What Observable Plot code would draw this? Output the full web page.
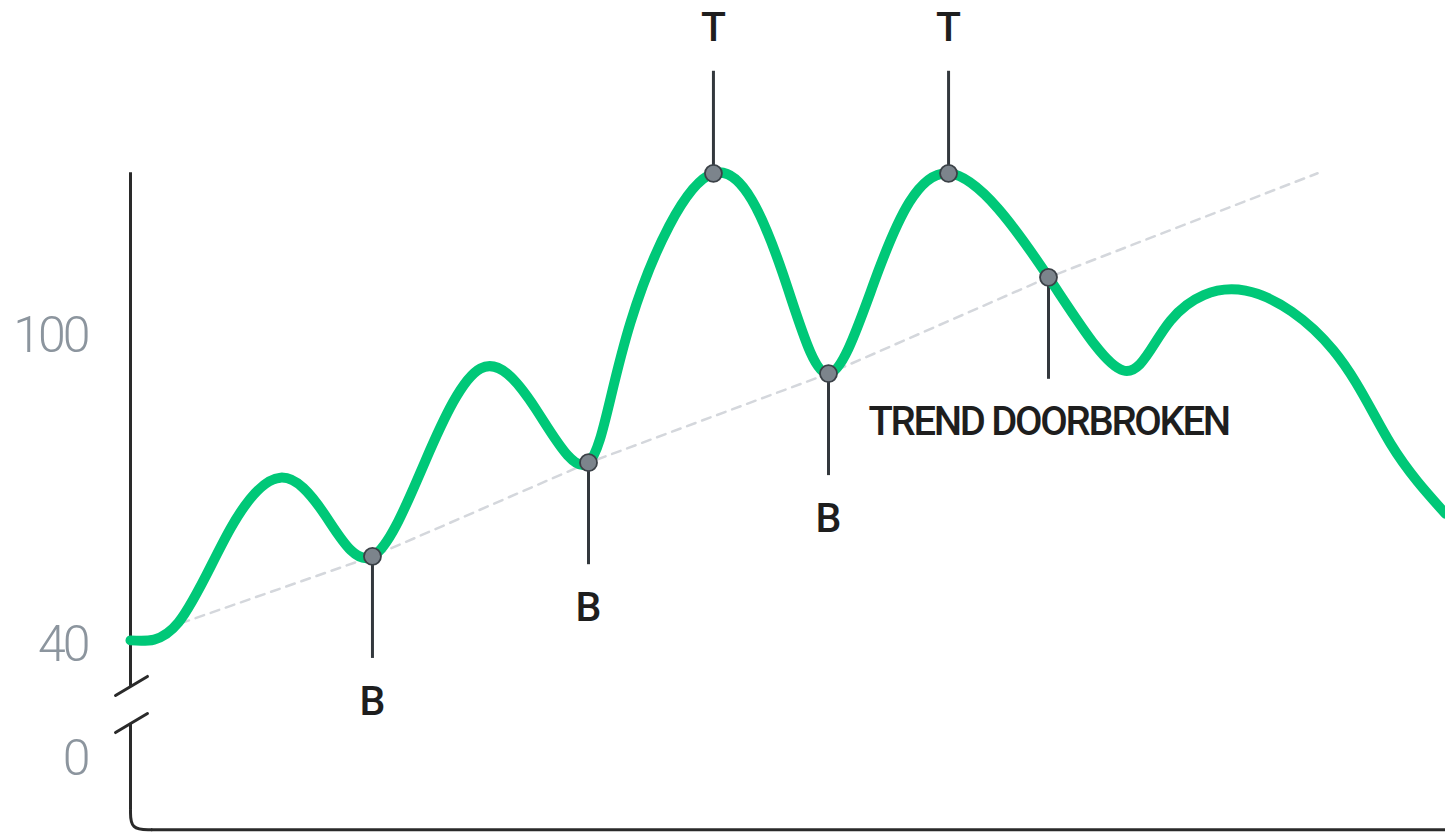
<!DOCTYPE html>
<html><head><meta charset="utf-8">
<script src="https://cdn.jsdelivr.net/npm/d3@7"></script>
<script src="https://cdn.jsdelivr.net/npm/@observablehq/plot@0.6"></script>
<style>html,body{margin:0;padding:0;background:#fff;} svg{display:block}</style>
</head><body><div id="chart"></div>
<script>
// Price curve (x: time units 0..100, y: value) — extrema and turning points
const curveX = [0, 3.65, 7.60, 11.41, 14.83, 18.40, 22.43, 26.62, 30.80, 34.83, 38.02, 44.33, 49.58, 53.08, 56.88, 62.21, 69.81, 75.51, 79.09, 84.79, 91.48, 95.82, 100];
const curveY = [40.8, 44.3, 62.5, 72.4, 65.0, 57.1, 75.7, 93.6, 85.8, 75.3, 102.5, 131.5, 112.2, 92.6, 112.6, 131.5, 111.3, 93.2, 102.9, 108.7, 97.1, 79.0, 65.4];

// Trend line (dashed)
const trendX = [3.80, 18.40, 34.83, 53.08, 69.81, 90.27];
const trendY = [44.1, 57.1, 75.3, 92.6, 111.3, 131.5];

// Annotated points
const markerLabels = ["B", "B", "T", "B", "T", "TREND DOORBROKEN"];
const markerX = [18.40, 34.83, 44.33, 53.08, 62.21, 69.81];
const markerY = [57.1, 75.3, 131.5, 92.6, 131.5, 111.3];
const markerDir = [1, 1, -1, 1, -1, 1]; // 1 = label below, -1 = label above

// Y axis ticks and broken scale (values below 40 are compressed)
const yTicks = [0, 40, 100];
const yTickLabels = ["0", "40", "100"];
const yBreakAt = 40;
const yBelowBreakRatio = 0.5534;
const yAxisTop = 131.6;
const yAxisBottom = -25;

// Frame pieces (data units)
const upperAxis = {y1: yAxisTop, y2: 25.3};
const lowerAxis = {y1: 12.3, y2: -17.9};
const breakUpper = [{x: -1.14, y: 22.1}, {x: 1.29, y: 28.8}];
const breakLower = [{x: -1.14, y: 9.1}, {x: 1.29, y: 15.8}];
const corner = [{x: 0, y: -17.9}, {x: 0, y: -25}, {x: 1.6, y: -25}];

const curve = curveX.map((x, i) => ({x, y: curveY[i]}));
const trend = trendX.map((x, i) => ({x, y: trendY[i]}));
const markers = markerLabels.map((label, i) => ({label, x: markerX[i], y: markerY[i], dir: markerDir[i]}));
const ticks = yTicks.map((y, i) => ({y, label: yTickLabels[i]}));

const brk = v => v >= yBreakAt ? v : yBreakAt - (yBreakAt - v) * yBelowBreakRatio;
const unbrk = u => u >= yBreakAt ? u : yBreakAt - (yBreakAt - u) / yBelowBreakRatio;

const yDomain = [40, 100];
const yRange = [644, 335];
// same mapping as the Plot y scale, used to size leader lines in pixels
const yLin = d3.scaleLinear(yDomain, yRange);
const leaderLen = 102;
markers.forEach(d => { d.yEnd = unbrk(yLin.invert(yLin(brk(d.y)) + d.dir * leaderLen)); });

const axisColor = "#2a2a2a";
const font = "Roboto, 'Noto Sans', sans-serif";

const chart = Plot.plot({
  width: 1445,
  height: 834,
  marginLeft: 130,
  marginRight: 0,
  marginTop: 0,
  marginBottom: 0,
  style: {fontFamily: font, background: "#fff", overflow: "visible"},
  x: {domain: [0, 100], axis: null},
  y: {domain: yDomain, range: yRange, transform: brk, axis: null},
  marks: [
    // y tick labels
    Plot.text(ticks, {x: 0, y: "y", text: "label", textAnchor: "end", lineAnchor: "middle", dx: -43, fontSize: 50, fontWeight: 300, fill: "#8c959e"}),
    // frame
    Plot.ruleX([upperAxis], {x: 0, y1: "y1", y2: "y2", stroke: axisColor, strokeWidth: 3}),
    Plot.ruleX([lowerAxis], {x: 0, y1: "y1", y2: "y2", stroke: axisColor, strokeWidth: 3}),
    Plot.line(breakUpper, {x: "x", y: "y", stroke: axisColor, strokeWidth: 3}),
    Plot.line(breakLower, {x: "x", y: "y", stroke: axisColor, strokeWidth: 3}),
    Plot.line(corner, {x: "x", y: "y", curve: "basis", stroke: axisColor, strokeWidth: 3}),
    Plot.ruleY([yAxisBottom], {x1: 1.6, x2: 100, stroke: axisColor, strokeWidth: 3}),
    // trend
    Plot.line(trend, {x: "x", y: "y", stroke: "#d4d7dc", strokeWidth: 2.5, strokeDasharray: "9,7"}),
    // leaders
    Plot.ruleX(markers, {x: "x", y1: "y", y2: "yEnd", stroke: "#33383d", strokeWidth: 3}),
    // curve
    Plot.line(curve, {x: "x", y: "y", curve: "natural", stroke: "#00c878", strokeWidth: 10}),
    // dots
    Plot.dot(markers, {x: "x", y: "y", r: 8.5, fill: "#7c848c", stroke: "#3b4147", strokeWidth: 1.8}),
    // labels
    Plot.text(markers.filter(d => d.label.length === 1 && d.dir > 0), {x: "x", y: "y", text: "label", dy: 145, lineAnchor: "middle", fontSize: 41, fontWeight: 500, fill: "#1e1e1e"}),
    Plot.text(markers.filter(d => d.label.length === 1 && d.dir < 0), {x: "x", y: "y", text: "label", dy: -145, lineAnchor: "middle", fontSize: 41, fontWeight: 500, fill: "#1e1e1e"}),
    Plot.text(markers.filter(d => d.label.length > 1), {x: "x", y: "y", text: "label", textAnchor: "start", lineAnchor: "middle", dx: -180, dy: 145, fontSize: 40, fontWeight: 500, fill: "#1e1e1e"})
  ]
});
document.getElementById("chart").appendChild(chart);

d3.select(chart).selectAll("text")
  .filter(function() { return this.textContent === "TREND DOORBROKEN"; })
  .style("letter-spacing", "-2.3px");
d3.select(chart).selectAll("text")
  .filter(function() { return yTickLabels.includes(this.textContent); })
  .style("letter-spacing", "-3px");
</script>
</body></html>
